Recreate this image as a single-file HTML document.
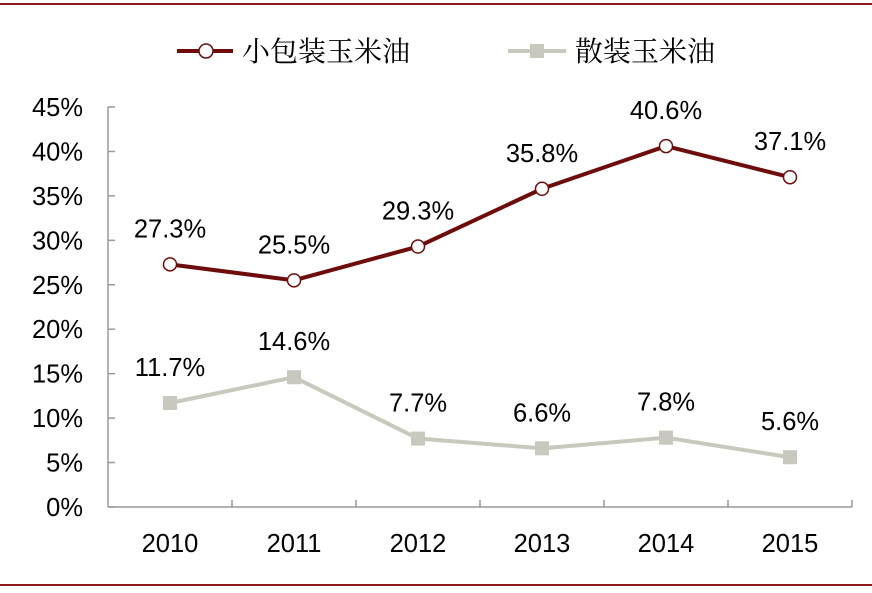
<!DOCTYPE html>
<html><head><meta charset="utf-8"><style>
body{margin:0;background:#fff}
svg text{font-family:"Liberation Sans","Noto Sans CJK SC",sans-serif;fill:#000}
</style></head><body>
<svg width="872" height="588" id="c">
<line x1="0" y1="4" x2="872" y2="4" stroke="#8b1a1a" stroke-width="2"/>
<line x1="0" y1="585" x2="872" y2="585" stroke="#8b1a1a" stroke-width="2"/>
<g>
<line x1="177" y1="51" x2="233" y2="51" stroke="#6e0b0b" stroke-width="4"/>
<circle cx="206" cy="51" r="7" fill="#fff" stroke="#6e0b0b" stroke-width="1.5"/>
<text x="242" y="61" font-size="28" style="font-family:'Noto Serif CJK SC',serif">小包装玉米油</text>
<line x1="508" y1="51" x2="566" y2="51" stroke="#c8c8be" stroke-width="4"/>
<rect x="530" y="44" width="14" height="14" fill="#c8c8be"/>
<text x="575" y="61" font-size="28" style="font-family:'Noto Serif CJK SC',serif">散装玉米油</text>
</g>
<g id="axes"></g><g id="marks"></g>
</svg>
<script>
const categories=["2010","2011","2012","2013","2014","2015"];
const packaged=[27.3,25.5,29.3,35.8,40.6,37.1];
const bulk=[11.7,14.6,7.7,6.6,7.8,5.6];
const yTicks=[0,5,10,15,20,25,30,35,40,45];
const NS="http://www.w3.org/2000/svg";
const x0=108,x1=852,yb=507,yt=107,ymax=45;
const bw=(x1-x0)/categories.length;
const xs=i=>x0+bw*(i+0.5);
const ys=v=>yb-(v/ymax)*(yb-yt);
function mk(p,t,a){const e=document.createElementNS(NS,t);for(const k in a)e.setAttribute(k,a[k]);p.appendChild(e);return e;}
const ax=document.getElementById('axes'),mg=document.getElementById('marks');
let l=mk(ax,'line',{x1:x0,y1:yt,x2:x0,y2:yb,stroke:'#999','stroke-width':1.5});


l=mk(ax,'line',{x1:x0,y1:yb,x2:x1,y2:yb,stroke:'#999','stroke-width':1.5});


yTicks.forEach(v=>{
 mk(ax,'line',{x1:x0,y1:ys(v),x2:x0+7,y2:ys(v),stroke:'#999','stroke-width':1.5});
 const t=mk(ax,'text',{x:83,y:ys(v)+9,'font-size':25.5,'text-anchor':'end'});t.textContent=v+'%';
 
 
});
categories.forEach((c,i)=>{
 const bx=x0+bw*(i+1);
 mk(ax,'line',{x1:bx,y1:yb,x2:bx,y2:yb-7,stroke:'#999','stroke-width':1.5});
 const t=mk(ax,'text',{x:xs(i),y:552,'font-size':25.5,'text-anchor':'middle'});t.textContent=c;
 
 
});
function series(data,color,name,marker){
 const p=mk(mg,'polyline',{points:data.map((v,i)=>xs(i)+','+ys(v)).join(' '),fill:'none',stroke:color,'stroke-width':4});
 
 
 data.forEach((v,i)=>{
  let m;
  if(marker==='circle')m=mk(mg,'circle',{cx:xs(i),cy:ys(v),r:6.5,fill:'#fff',stroke:color,'stroke-width':1.5});
  else m=mk(mg,'rect',{x:xs(i)-7,y:ys(v)-7,width:14,height:14,fill:color});
  
  
  const t=mk(mg,'text',{x:xs(i),y:ys(v)-27,'font-size':25.5,'text-anchor':'middle'});t.textContent=v.toFixed(1)+'%';
  
  
 });
}
series(bulk,'#c8c8be','bulk','square');
series(packaged,'#6e0b0b','packaged','circle');
</script>
</body></html>
